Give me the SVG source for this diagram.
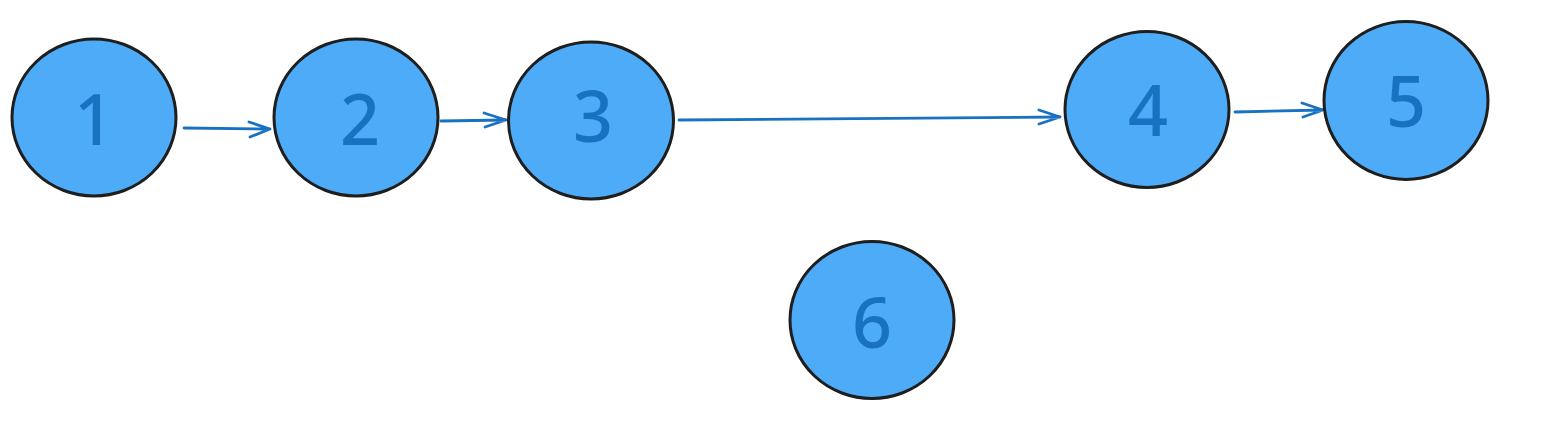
<svg xmlns="http://www.w3.org/2000/svg" width="1553" height="432" viewBox="0 0 1553 432">
<style>
.n{fill:#4dabf7;stroke:#1e1e1e;stroke-width:3}
.t{font-family:"Noto Sans","DejaVu Sans",sans-serif;font-size:70px;font-weight:500;fill:#1971c2;text-anchor:middle}
.e{fill:none;stroke:#1971c2;stroke-width:2.8;stroke-linecap:round;stroke-linejoin:round}
</style>
<rect width="1553" height="432" fill="#ffffff"/>
<g id="connectors">
<path class="e" d="M184,128 L270,129 M249,122 L270,129 L250,137"/>
<path class="e" d="M441,121 L506,120 M484,113 L506,120 L485,127"/>
<path class="e" d="M679,120 L1060,117 M1039,110 L1060,117 L1039,124"/>
<path class="e" d="M1235,112 L1323,110 M1302,103 L1323,110 L1303,117"/>
</g>
<g id="node1"><ellipse class="n" cx="94" cy="117.5" rx="82" ry="78.5"/><text class="t" x="94" y="145">1</text></g>
<g id="node2"><ellipse class="n" cx="356" cy="117.5" rx="82" ry="78.5"/><text class="t" x="360" y="145">2</text></g>
<g id="node3"><ellipse class="n" cx="591" cy="120.5" rx="82.5" ry="78.5"/><text class="t" x="593" y="142">3</text></g>
<g id="node4"><ellipse class="n" cx="1147" cy="109.5" rx="82" ry="78"/><text class="t" x="1148" y="136">4</text></g>
<g id="node5"><ellipse class="n" cx="1406" cy="100.5" rx="82" ry="79"/><text class="t" x="1406" y="127">5</text></g>
<g id="node6"><ellipse class="n" cx="872" cy="320" rx="82" ry="78.5"/><text class="t" x="872" y="348">6</text></g>
</svg>
